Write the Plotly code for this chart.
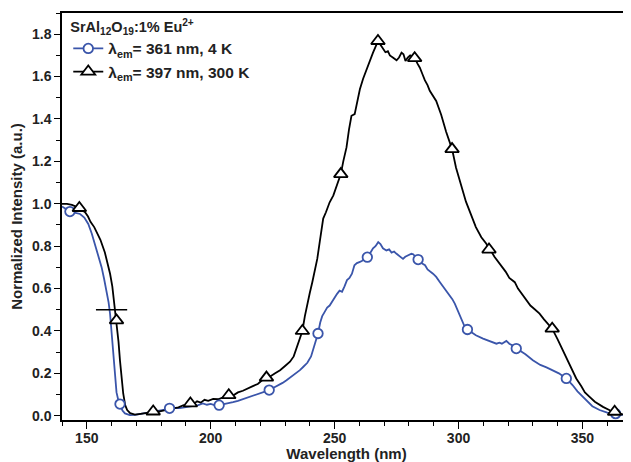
import plotly.graph_objects as go

# ---- data ----
black_x = [140,142,144,146,147,148,149.3,150.5,151.5,153,154,155.5,157.3,158.5,159.4,160.3,161,162,162.8,163.4,164,164.7,165.5,166.3,167.5,169.4,171,173,175,177,179,181,183,185,187,189,190,191.8,193,194.5,196,197.5,199,201,203,205,207.3,209,211,213,215,217,219,220.5,222.5,224,226,228,230,232,233.5,235,236,237,238,239,240,241,242,243,244,245.4,246.5,248,249.5,251,252.5,253.5,254.8,255.8,256.8,258.1,259,260.2,261.5,262.9,264.2,265.5,266.5,267.5,268.5,269.6,270.5,271.5,272.3,273.5,275,276,277,277.8,278.6,279.5,280.5,281.3,282.3,283.5,284.4,285.5,286.4,287.5,288.4,291,293,295,297.4,299,301.2,303,305.2,307,309.2,310.5,311.3,312.3,313.5,314.5,316.6,318,319,320.5,322.7,324,325.5,327.4,329,330.5,332.7,334.5,336,337.8,340,342.1,344,345.5,347.5,349.5,351,352.9,355,358.3,361,363,365,367,370]
black_y = [1.00,1.00,0.995,0.985,0.98,0.97,0.96,0.94,0.915,0.89,0.866,0.83,0.77,0.72,0.67,0.61,0.545,0.45,0.35,0.26,0.18,0.105,0.05,0.027,0.012,0.005,0.008,0.012,0.015,0.018,0.02,0.024,0.03,0.035,0.04,0.05,0.045,0.058,0.055,0.068,0.062,0.075,0.07,0.08,0.078,0.088,0.097,0.095,0.11,0.118,0.13,0.14,0.15,0.165,0.18,0.185,0.2,0.215,0.235,0.255,0.28,0.33,0.37,0.40,0.47,0.53,0.58,0.63,0.685,0.74,0.82,0.93,0.96,1.007,1.04,1.09,1.14,1.2,1.266,1.35,1.415,1.423,1.47,1.54,1.59,1.635,1.68,1.713,1.74,1.768,1.75,1.73,1.715,1.72,1.70,1.69,1.677,1.69,1.713,1.705,1.674,1.69,1.70,1.695,1.687,1.66,1.642,1.61,1.583,1.56,1.533,1.485,1.42,1.34,1.258,1.17,1.078,1.01,0.944,0.89,0.842,0.82,0.81,0.784,0.77,0.75,0.717,0.69,0.68,0.65,0.63,0.6,0.575,0.544,0.52,0.505,0.482,0.455,0.435,0.411,0.36,0.309,0.26,0.22,0.176,0.14,0.11,0.089,0.066,0.042,0.026,0.019,0.01,0.005,0.003]

blue_x = [140,141.5,143.2,145,147.3,149,150.6,152,153.3,154.8,156,157,158,158.8,159.4,159.9,160.4,160.9,161.4,162,162.7,163.4,164.4,165.4,167.4,169.5,171.5,173.5,175.5,177.5,179.5,181.5,183.4,185.5,187.5,189.5,191.5,193.5,195,196.8,198.5,200,201.5,203.4,205,207,209,211,213,215,217,219,221,223.6,225,227,229,230.6,232.5,234.5,236,237.3,239,240.5,241.5,242.5,243.3,244.2,245,246,247,248,249,250,251,252,253,254,255,256,257,258,259,260,261,262,263.2,264.5,265.5,266.5,267.6,268.5,269.5,270.9,272,273,274,275,276.3,277.6,278.5,279.5,281,281.7,283.7,285,286.5,287.5,289.7,291,292.5,294.4,296,297.5,298.5,299.5,300.3,301.2,302.5,303.6,305,307,309.9,312,313.5,315.3,316.5,317.5,319.3,320.5,322,323.3,325,327,330,333,335.5,338.1,340.5,343.5,346,348,350.2,352,354,356.9,360,363.4,366,370]
blue_y = [0.987,0.975,0.963,0.958,0.952,0.935,0.905,0.86,0.811,0.755,0.70,0.645,0.59,0.535,0.48,0.41,0.325,0.245,0.168,0.11,0.075,0.055,0.025,0.011,0.003,0.004,0.008,0.012,0.019,0.022,0.026,0.03,0.035,0.037,0.036,0.04,0.042,0.046,0.05,0.058,0.052,0.056,0.05,0.05,0.055,0.058,0.064,0.07,0.078,0.085,0.092,0.1,0.11,0.121,0.13,0.142,0.155,0.168,0.185,0.2,0.215,0.23,0.25,0.28,0.32,0.36,0.388,0.44,0.47,0.49,0.51,0.52,0.54,0.555,0.575,0.59,0.585,0.61,0.64,0.65,0.67,0.71,0.72,0.725,0.73,0.74,0.748,0.77,0.79,0.80,0.819,0.81,0.79,0.78,0.785,0.77,0.775,0.764,0.752,0.74,0.75,0.755,0.764,0.762,0.737,0.72,0.71,0.69,0.67,0.655,0.63,0.60,0.57,0.55,0.529,0.50,0.475,0.45,0.42,0.407,0.395,0.38,0.364,0.355,0.35,0.34,0.345,0.34,0.353,0.34,0.33,0.317,0.305,0.29,0.262,0.24,0.228,0.215,0.2,0.176,0.145,0.115,0.089,0.065,0.045,0.027,0.015,0.01,0.004,0.002]

blue_mx = [143.2,163.4,183.4,203.4,223.6,243.3,263.2,283.7,303.6,323.3,343.5,363.4]
blue_my = [0.963,0.055,0.035,0.05,0.121,0.388,0.748,0.737,0.407,0.317,0.176,0.01]

black_mx = [147,162,176.8,191.8,207.3,222.5,237,252.5,267.5,282.3,297.4,312.3,337.8,363]
black_my = [0.98,0.45,0.02,0.058,0.097,0.18,0.40,1.14,1.768,1.687,1.258,0.784,0.411,0.019]

halfmax_x = [153.7, 166.3]
halfmax_y = [0.5, 0.5]

legend_title = "SrAl<sub>12</sub>O<sub>19</sub>:1% Eu<sup>2+</sup>"
name_blue = "λ<sub>em</sub>= 361 nm, 4 K"
name_black = "λ<sub>em</sub>= 397 nm, 300 K"

BLUE = "#3a55aa"
BLACK = "#000000"
FONT = "Liberation Sans"

fig = go.Figure()
fig.add_trace(go.Scatter(x=blue_x, y=blue_y, mode="lines",
                         line=dict(color=BLUE, width=1.8), showlegend=False))
fig.add_trace(go.Scatter(x=black_x, y=black_y, mode="lines",
                         line=dict(color=BLACK, width=1.8), showlegend=False))
fig.add_trace(go.Scatter(x=halfmax_x, y=halfmax_y, mode="lines",
                         line=dict(color=BLACK, width=1.3), showlegend=False))
fig.add_trace(go.Scatter(x=blue_mx, y=blue_my, mode="markers",
                         marker=dict(symbol="circle", size=9.5, color="white",
                                     line=dict(color=BLUE, width=1.8)),
                         showlegend=False))
fig.add_trace(go.Scatter(x=black_mx, y=black_my, mode="markers",
                         marker=dict(symbol="triangle-up", size=12, color="white",
                                     line=dict(color=BLACK, width=1.8)),
                         showlegend=False))
# legend entries
fig.add_trace(go.Scatter(x=[None], y=[None], mode="lines+markers", name=name_blue,
                         line=dict(color=BLUE, width=1.8),
                         marker=dict(symbol="circle", size=9.5, color="white",
                                     line=dict(color=BLUE, width=1.8))))
fig.add_trace(go.Scatter(x=[None], y=[None], mode="lines+markers", name=name_black,
                         line=dict(color=BLACK, width=1.8),
                         marker=dict(symbol="triangle-up", size=12, color="white",
                                     line=dict(color=BLACK, width=1.8))))

tickfont = dict(family=FONT, size=14, color="#222", weight="bold")
titlefont = dict(family=FONT, size=15, color="#222", weight="bold")

# the page body adds an 8 px offset; the figure is sized to compensate
fig.update_layout(
    width=623, height=454,
    margin=dict(l=54, r=0, t=5, b=42),
    paper_bgcolor="white", plot_bgcolor="white",
    legend=dict(x=0.011, y=1.0, xanchor="left", yanchor="top",
                bgcolor="rgba(0,0,0,0)",
                title=dict(text=legend_title, font=dict(family=FONT, size=14.5, color="#222", weight="bold")),
                font=dict(family=FONT, size=15.5, color="#222", weight="bold"),
                tracegroupgap=0),
)
fig.update_xaxes(range=[140, 369.6], showgrid=False, zeroline=False, automargin=False,
                 showline=True, linecolor="black", linewidth=1.5, mirror=True,
                 ticks="outside", ticklen=7, tickwidth=1.3, tickcolor="black",
                 tick0=150, dtick=50, tickfont=tickfont, ticklabelstandoff=-3,
                 minor=dict(ticks="outside", ticklen=4, tickwidth=1.3, tickcolor="black", dtick=10, tick0=140),
                 title=dict(text="Wavelength (nm)", font=titlefont, standoff=0))
fig.update_yaxes(range=[-0.02, 1.9], showgrid=False, zeroline=False, automargin=False,
                 showline=True, linecolor="black", linewidth=1.5, mirror=False,
                 ticks="outside", ticklen=6, tickwidth=1.3, tickcolor="black",
                 tick0=0, dtick=0.2, tickformat=".1f", tickfont=tickfont,
                 minor=dict(ticks="outside", ticklen=4, tickwidth=1.3, tickcolor="black", dtick=0.1),
                 title=dict(text="Normalized Intensity (a.u.)", font=titlefont, standoff=6))

fig.write_html("out.html")
